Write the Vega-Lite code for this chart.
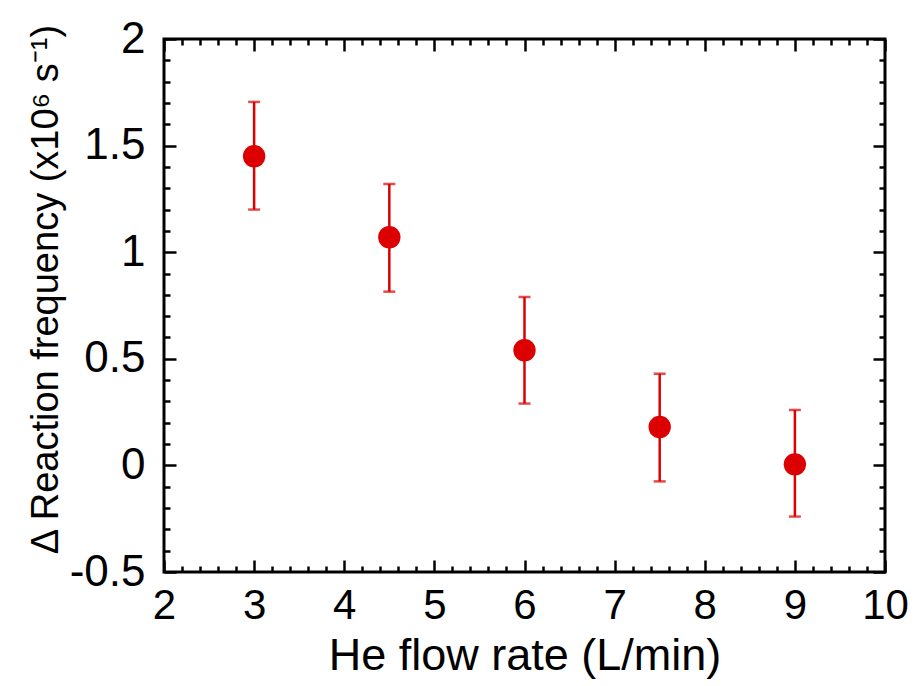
{
  "$schema": "https://vega.github.io/schema/vega-lite/v6.json",
  "width": 721,
  "height": 533,
  "autosize": {"type": "none"},
  "padding": {"left": 164, "top": 39, "right": 30, "bottom": 114},
  "background": "white",
  "config": {
    "view": {"stroke": "black", "strokeWidth": 3},
    "axis": {
      "domain": false,
      "grid": false,
      "tickColor": "black",
      "tickWidth": 2.5,
      "labelFont": "Liberation Sans",
      "titleFont": "Liberation Sans",
      "labelColor": "black",
      "titleColor": "black",
      "labelFontSize": 44,
      "titleFontSize": 45,
      "titleFontWeight": "normal"
    }
  },
  "data": {
    "values": [
      {"flow": 3, "freq": 1.45, "lo": 1.2, "hi": 1.705},
      {"flow": 4.5, "freq": 1.07, "lo": 0.815, "hi": 1.32},
      {"flow": 6, "freq": 0.54, "lo": 0.29, "hi": 0.79},
      {"flow": 7.5, "freq": 0.18, "lo": -0.075, "hi": 0.43},
      {"flow": 9, "freq": 0.005, "lo": -0.24, "hi": 0.26}
    ]
  },
  "layer": [
    {
      "mark": {"type": "rule", "color": "#dc0000", "strokeWidth": 2.5},
      "encoding": {
        "x": {
          "field": "flow", "type": "quantitative",
          "scale": {"domain": [2, 10], "nice": false, "zero": false},
          "axis": {
            "orient": "bottom", "values": [2, 3, 4, 5, 6, 7, 8, 9, 10],
            "tickSize": -12, "labelPadding": 25, "titlePadding": 7,
            "labelFontSize": 42,
            "labelFlush": false, "labelOverlap": false,
            "title": "He flow rate (L/min)"
          }
        },
        "y": {
          "field": "lo", "type": "quantitative",
          "scale": {"domain": [-0.5, 2], "nice": false, "zero": false},
          "axis": {
            "orient": "left", "values": [-0.5, 0, 0.5, 1, 1.5, 2],
            "tickSize": -12, "labelPadding": 31, "titlePadding": 4,
            "labelFlush": false, "labelOverlap": false,
            "labelExpr": "toString(datum.value)",
            "title": "Δ Reaction frequency (x10⁶ s⁻¹)",
            "titleFontSize": 38,
            "titleY": 250
          }
        },
        "y2": {"field": "hi"}
      }
    },
    {
      "mark": {"type": "tick", "color": "#dc0000", "orient": "horizontal", "size": 12, "thickness": 2.5},
      "encoding": {
        "x": {
          "field": "flow", "type": "quantitative",
          "axis": {
            "orient": "bottom", "labels": false, "title": null, "tickSize": -6,
            "values": [2.2, 2.4, 2.6, 2.8, 3.2, 3.4, 3.6, 3.8, 4.2, 4.4, 4.6, 4.8, 5.2, 5.4, 5.6, 5.8, 6.2, 6.4, 6.6, 6.8, 7.2, 7.4, 7.6, 7.8, 8.2, 8.4, 8.6, 8.8, 9.2, 9.4, 9.6, 9.8]
          }
        },
        "y": {
          "field": "hi", "type": "quantitative",
          "axis": {
            "orient": "left", "labels": false, "title": null, "tickSize": -6,
            "values": [-0.4, -0.3, -0.2, -0.1, 0.1, 0.2, 0.3, 0.4, 0.6, 0.7, 0.8, 0.9, 1.1, 1.2, 1.3, 1.4, 1.6, 1.7, 1.8, 1.9]
          }
        }
      }
    },
    {
      "mark": {"type": "tick", "color": "#dc0000", "orient": "horizontal", "size": 12, "thickness": 2.5},
      "encoding": {
        "x": {
          "field": "flow", "type": "quantitative",
          "axis": {
            "orient": "top", "labels": false, "title": null, "tickSize": -12,
            "values": [2, 3, 4, 5, 6, 7, 8, 9, 10]
          }
        },
        "y": {
          "field": "lo", "type": "quantitative",
          "axis": {
            "orient": "right", "labels": false, "title": null, "tickSize": -12,
            "values": [-0.5, 0, 0.5, 1, 1.5, 2]
          }
        }
      }
    },
    {
      "mark": {"type": "circle", "color": "#dc0000", "opacity": 1, "size": 500},
      "encoding": {
        "x": {
          "field": "flow", "type": "quantitative",
          "axis": {
            "orient": "top", "labels": false, "title": null, "tickSize": -6,
            "values": [2.2, 2.4, 2.6, 2.8, 3.2, 3.4, 3.6, 3.8, 4.2, 4.4, 4.6, 4.8, 5.2, 5.4, 5.6, 5.8, 6.2, 6.4, 6.6, 6.8, 7.2, 7.4, 7.6, 7.8, 8.2, 8.4, 8.6, 8.8, 9.2, 9.4, 9.6, 9.8]
          }
        },
        "y": {
          "field": "freq", "type": "quantitative",
          "axis": {
            "orient": "right", "labels": false, "title": null, "tickSize": -6,
            "values": [-0.4, -0.3, -0.2, -0.1, 0.1, 0.2, 0.3, 0.4, 0.6, 0.7, 0.8, 0.9, 1.1, 1.2, 1.3, 1.4, 1.6, 1.7, 1.8, 1.9]
          }
        }
      }
    }
  ],
  "resolve": {"axis": {"x": "independent", "y": "independent"}}
}
